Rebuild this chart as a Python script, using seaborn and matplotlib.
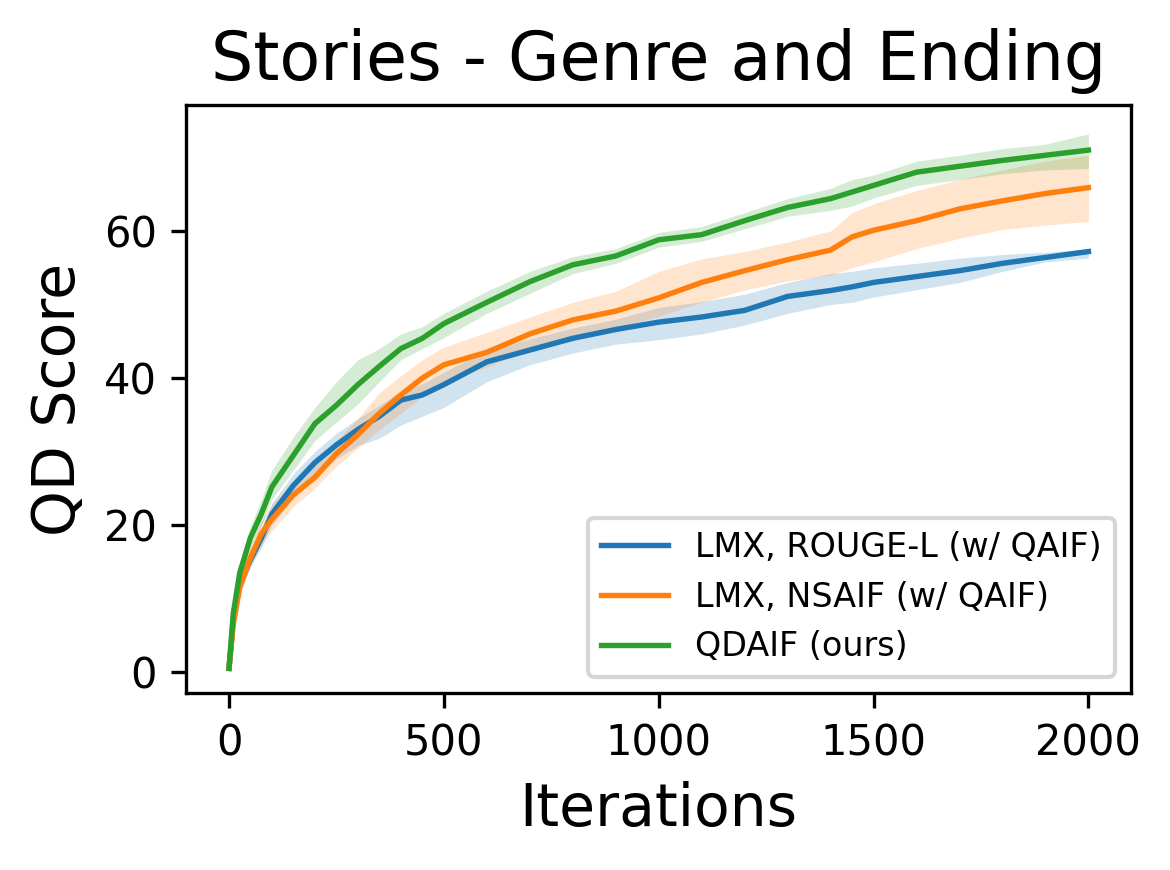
import numpy as np
import pandas as pd
import matplotlib
matplotlib.use("Agg")
import matplotlib.pyplot as plt
import seaborn as sns

## QD score over iterations, stories domain (genre and ending)

iterations = [0, 10, 25, 50, 75, 100, 150, 200, 250, 300, 350, 400, 450, 500, 600, 700,
              800, 900, 1000, 1100, 1200, 1300, 1400, 1450, 1500, 1600, 1700, 1800, 1900, 2000]

# LMX, ROUGE-L (w/ QAIF)
rouge_mean = [0.5, 7, 12, 15.3, 18.2, 21.5, 25.4, 28.5, 30.9, 33.0, 34.8, 37.0, 37.7, 39.1, 42.2, 43.8,
              45.4, 46.6, 47.6, 48.3, 49.2, 51.1, 51.9, 52.4, 53.0, 53.8, 54.6, 55.6, 56.4, 57.2]
rouge_lo = [0.5, 6.5, 11, 14.3, 17, 20, 23.8, 26.5, 29, 30.8, 31.8, 33.6, 34.8, 36, 39.5, 41.8,
            43.4, 44.6, 45.2, 46, 47.2, 48.8, 50, 50.3, 51, 52, 53, 54.5, 55.8, 56.3]
rouge_hi = [0.5, 7.5, 13, 16.5, 19.5, 23, 27, 30, 32.5, 34.5, 36.3, 38.2, 39.2, 40.8, 43.8, 45.3,
            46.8, 48, 49.6, 50.4, 51.4, 53, 54.2, 54.5, 55, 55.6, 56.3, 56.8, 57.1, 57.6]

# LMX, NSAIF (w/ QAIF)
nsaif_mean = [0.5, 6.5, 11.5, 15.6, 18.8, 20.8, 24.1, 26.5, 29.7, 32.3, 35.2, 37.7, 40.0, 41.8, 43.5, 46.0,
              47.9, 49.1, 50.9, 53.0, 54.6, 56.1, 57.4, 59.2, 60.1, 61.4, 63.0, 64.1, 65.1, 65.9]
nsaif_lo = [0.5, 6, 10.5, 14.5, 17.2, 19.2, 22.5, 25, 28, 30.5, 33, 35.2, 37.5, 39.5, 41.5, 43.8,
            45.8, 46.8, 48.4, 50.3, 52, 53.2, 54, 55, 55.8, 57.6, 59, 60.2, 60.8, 61.3]
nsaif_hi = [0.5, 7, 12.5, 17, 20.5, 22.8, 26, 28.5, 31.5, 34.5, 38, 40.3, 42.5, 44.2, 46.2, 48.3,
            50.3, 51.8, 54.5, 56.2, 57.2, 58.5, 60, 62.5, 63.7, 65.5, 67, 68.3, 69.5, 70.3]

# QDAIF (ours)
qdaif_mean = [0.5, 8, 13.5, 18.3, 21.5, 25.2, 29.5, 33.8, 36.3, 39.1, 41.6, 44.0, 45.4, 47.4, 50.3, 53.1,
              55.4, 56.6, 58.8, 59.5, 61.4, 63.2, 64.4, 65.3, 66.2, 68.0, 68.8, 69.6, 70.3, 71.0]
qdaif_lo = [0.5, 7, 12.5, 17, 20, 23.5, 27.5, 31.5, 34, 36.5, 39.5, 42.5, 44, 45.5, 48.8, 51.5,
            54.2, 55.6, 57.8, 58.6, 60.3, 62, 62.8, 63.4, 64.5, 66.2, 67, 67.8, 68.3, 68.5]
qdaif_hi = [0.5, 9, 14.5, 19.8, 23.5, 27.5, 32, 36, 39.5, 42.5, 44, 46, 47, 48.8, 51.8, 54.5,
            56.5, 57.6, 59.8, 60.6, 62.5, 64.4, 65.8, 67, 67.6, 69.5, 70.3, 71.2, 71.8, 73.2]

labels = ["LMX, ROUGE-L (w/ QAIF)", "LMX, NSAIF (w/ QAIF)", "QDAIF (ours)"]
means = [rouge_mean, nsaif_mean, qdaif_mean]
lows = [rouge_lo, nsaif_lo, qdaif_lo]
highs = [rouge_hi, nsaif_hi, qdaif_hi]

df = pd.concat([pd.DataFrame({"Iterations": iterations, "QD Score": m, "lo": lo, "hi": hi, "method": lab})
                for m, lo, hi, lab in zip(means, lows, highs, labels)], ignore_index=True)

palette = sns.color_palette("tab10", 3)

fig, ax = plt.subplots(figsize=(3.9, 2.9), dpi=300)
fig.subplots_adjust(left=0.159, right=0.967, top=0.879, bottom=0.203)

sns.lineplot(data=df, x="Iterations", y="QD Score", hue="method", palette=palette,
             linewidth=1.3, ax=ax)
for (lab, grp), col in zip(df.groupby("method", sort=False), palette):
    ax.fill_between(grp["Iterations"], grp["lo"], grp["hi"], color=col, alpha=0.2, linewidth=0)

ax.set_xlim(-100, 2100)
ax.set_ylim(-2.9, 77.1)
ax.set_xticks([0, 500, 1000, 1500, 2000])
ax.set_yticks([0, 20, 40, 60])
ax.tick_params(labelsize=10)
ax.set_title("Stories - Genre and Ending", fontsize=16)
ax.set_xlabel("Iterations", fontsize=14)
ax.set_ylabel("QD Score", fontsize=14)
ax.legend(loc="lower right", fontsize=8)

fig.savefig("out.png", dpi=300)
